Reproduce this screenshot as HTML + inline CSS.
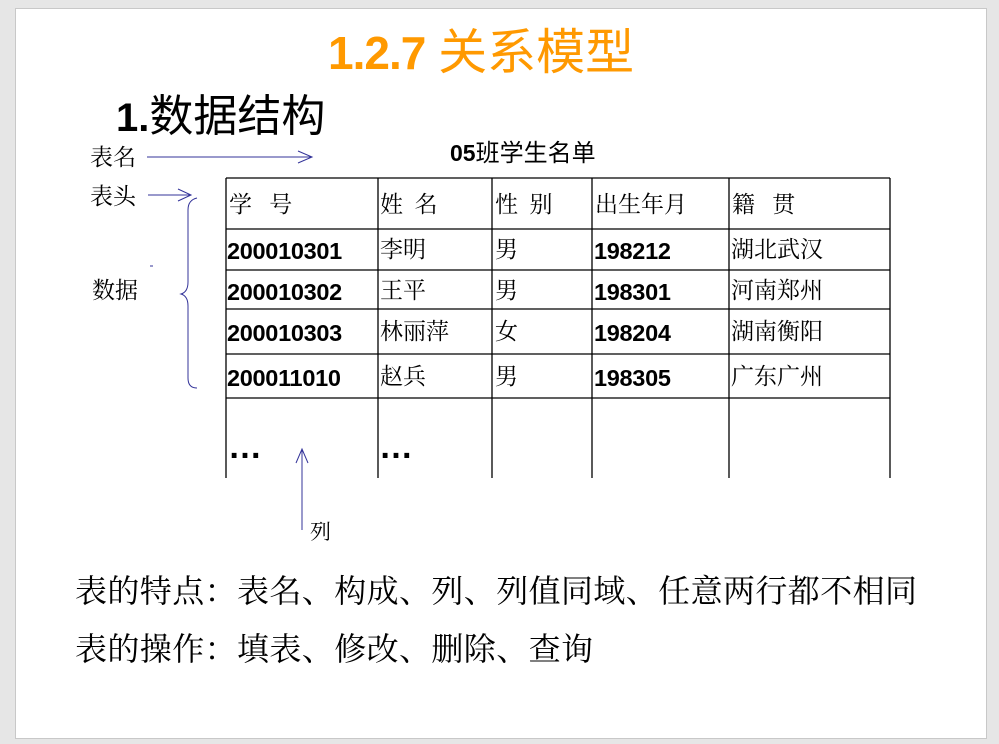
<!DOCTYPE html>
<html><head><meta charset="utf-8"><style>
body{margin:0;width:999px;height:744px;background:#e6e6e6;position:relative;overflow:hidden;font-family:"Liberation Sans","Noto Sans CJK SC",sans-serif}
.slide{position:absolute;left:15px;top:8px;width:970px;height:729px;background:#fff;border:1px solid #c8c8c8}
.t{position:absolute;white-space:nowrap;line-height:1}
.cj{font-family:"Liberation Serif","Noto Serif CJK SC",serif}
.c{position:absolute;font-size:23px;line-height:1;white-space:nowrap}
.b{font-weight:bold;font-family:"Liberation Sans",sans-serif;font-size:23.5px;letter-spacing:-0.3px}
</style></head><body>
<div class="slide"></div>
<div class="t" style="left:328px;top:24px;font-size:46px;color:#ff9900"><b style="letter-spacing:-1px">1.2.7</b> <span style="font-family:'Noto Sans CJK SC',sans-serif;font-size:49px">关系模型</span></div>
<div class="t" style="left:116px;top:90px;font-size:40px;color:#000"><b>1.</b><span style="font-family:'Noto Sans CJK SC',sans-serif;font-size:44px">数据结构</span></div>
<div class="t cj" style="left:90px;top:146px;font-size:23px">表名</div>
<div class="t cj" style="left:90px;top:185px;font-size:23px">表头</div>
<div class="t cj" style="left:92px;top:279px;font-size:23px">数据</div>
<div class="t cj" style="left:310px;top:522px;font-size:21px">列</div>
<div class="t" style="left:450px;top:139px;font-size:23px;font-weight:bold">05<span style="font-family:'Noto Sans CJK SC',sans-serif;font-weight:normal;font-size:24px">班学生名单</span></div>
<svg width="999" height="744" style="position:absolute;left:0;top:0">
<g stroke="#333399" stroke-width="1" fill="none">
<line x1="147" y1="157" x2="312" y2="157"/><polyline points="298,151 312,157 298,163"/>
<line x1="148" y1="195" x2="191" y2="195"/><polyline points="178,189 191,195 178,201"/>
<path d="M197,198 Q188,200 188,210 L188,282 Q188,292 181,294 Q188,296 188,306 L188,378 Q188,388 197,388"/>
<line x1="302" y1="530" x2="302" y2="449"/><polyline points="296,463 302,449 308,463"/>
<line x1="150" y1="266" x2="153" y2="266"/>
</g>
<g stroke="#000" stroke-width="1.3">
<line x1="226" y1="178" x2="890" y2="178"/>
<line x1="226" y1="229" x2="890" y2="229"/>
<line x1="226" y1="270" x2="890" y2="270"/>
<line x1="226" y1="309" x2="890" y2="309"/>
<line x1="226" y1="354" x2="890" y2="354"/>
<line x1="226" y1="398" x2="890" y2="398"/>
<line x1="226" y1="178" x2="226" y2="478"/>
<line x1="378" y1="178" x2="378" y2="478"/>
<line x1="492" y1="178" x2="492" y2="478"/>
<line x1="592" y1="178" x2="592" y2="478"/>
<line x1="729" y1="178" x2="729" y2="478"/>
<line x1="890" y1="178" x2="890" y2="478"/>
</g>
</svg>
<div class="c cj" style="left:229px;top:193px">学&nbsp;&nbsp; 号</div>
<div class="c cj" style="left:380px;top:193px">姓&nbsp; 名</div>
<div class="c cj" style="left:495px;top:193px">性&nbsp; 别</div>
<div class="c cj" style="left:595px;top:193px">出生年月</div>
<div class="c cj" style="left:732px;top:193px">籍&nbsp;&nbsp; 贯</div>

<div class="c b" style="left:227px;top:240px">200010301</div>
<div class="c cj" style="left:380px;top:238px">李明</div>
<div class="c cj" style="left:495px;top:238px">男</div>
<div class="c b" style="left:594px;top:240px">198212</div>
<div class="c cj" style="left:731px;top:238px">湖北武汉</div>

<div class="c b" style="left:227px;top:281px">200010302</div>
<div class="c cj" style="left:380px;top:279px">王平</div>
<div class="c cj" style="left:495px;top:279px">男</div>
<div class="c b" style="left:594px;top:281px">198301</div>
<div class="c cj" style="left:731px;top:279px">河南郑州</div>

<div class="c b" style="left:227px;top:322px">200010303</div>
<div class="c cj" style="left:380px;top:320px">林丽萍</div>
<div class="c cj" style="left:495px;top:320px">女</div>
<div class="c b" style="left:594px;top:322px">198204</div>
<div class="c cj" style="left:731px;top:320px">湖南衡阳</div>

<div class="c b" style="left:227px;top:367px">200011010</div>
<div class="c cj" style="left:380px;top:365px">赵兵</div>
<div class="c cj" style="left:495px;top:365px">男</div>
<div class="c b" style="left:594px;top:367px">198305</div>
<div class="c cj" style="left:731px;top:365px">广东广州</div>

<div class="c b" style="left:228px;top:430px;font-size:34px">…</div>
<div class="c b" style="left:379px;top:430px;font-size:34px">…</div>

<div class="t cj" style="left:75px;top:575px;font-size:32px;letter-spacing:0.4px">表的特点：表名、构成、列、列值同域、任意两行都不相同</div>
<div class="t cj" style="left:75px;top:633px;font-size:32px;letter-spacing:0.4px">表的操作：填表、修改、删除、查询</div>
</body></html>
